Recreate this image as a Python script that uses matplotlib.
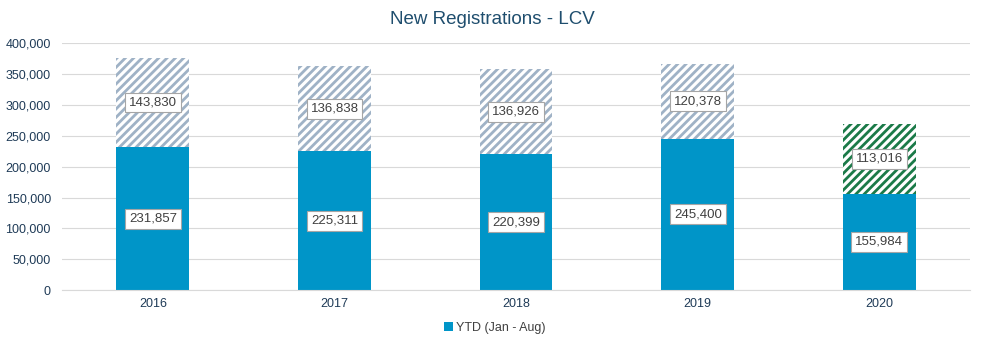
import matplotlib
matplotlib.use("Agg")
import matplotlib.pyplot as plt
import numpy as np
from matplotlib.ticker import FuncFormatter

years = ["2016", "2017", "2018", "2019", "2020"]
ytd = [231857, 225311, 220399, 245400, 155984]
rest = [143830, 136838, 136926, 120378, 113016]
hatch_colors = ["#9fb2c6", "#9fb2c6", "#9fb2c6", "#9fb2c6", "#1b7a48"]

BLUE = "#0095c8"
plt.rcParams["font.family"] = ["Liberation Sans", "DejaVu Sans"]
plt.rcParams["hatch.linewidth"] = 2.0

fig = plt.figure(figsize=(9.84, 3.53), dpi=100)
ax = fig.add_axes([0.063, 0.178, 0.923, 0.700])

x = np.arange(len(years))
w = 0.40
bars = ax.bar(x, ytd, width=w, color=BLUE, label="YTD (Jan - Aug)", zorder=2)
for i in range(len(years)):
    plt.rcParams["hatch.color"] = hatch_colors[i]
    ax.bar(x[i], rest[i], bottom=ytd[i], width=w, facecolor="white",
           edgecolor=hatch_colors[i], linewidth=0, hatch="////", zorder=2)

box = dict(boxstyle="square,pad=0.3", facecolor="white", edgecolor="#a6a6a6", linewidth=0.8)
for i in range(len(years)):
    ax.text(x[i], ytd[i] / 2, f"{ytd[i]:,}", ha="center", va="center",
            fontsize=9.5, color="#404040", bbox=box, zorder=4)
    ax.text(x[i], ytd[i] + rest[i] / 2, f"{rest[i]:,}", ha="center", va="center",
            fontsize=9.5, color="#404040", bbox=box, zorder=4)

ax.set_xlim(-0.5, len(years) - 0.5)
ax.set_ylim(0, 400000)
ax.set_yticks(np.arange(0, 400001, 50000))
ax.yaxis.set_major_formatter(FuncFormatter(lambda v, p: f"{int(v):,}"))
ax.set_xticks(x)
ax.set_xticklabels(years)
ax.grid(axis="y", color="#d9d9d9", linewidth=0.8, zorder=0)
ax.set_axisbelow(True)
for s in ["top", "right", "left"]:
    ax.spines[s].set_visible(False)
ax.spines["bottom"].set_color("#d9d9d9")
ax.tick_params(axis="both", length=0, labelsize=9, colors="#1f3b57", pad=8)
ax.tick_params(axis="x", pad=6)

fig.text(0.5, 0.945, "New Registrations - LCV", ha="center", va="center",
         fontsize=13.5, color="#1f4e6e")

fig.legend(handles=[bars], labels=["YTD (Jan - Aug)"], loc="center",
           bbox_to_anchor=(0.503, 0.072), frameon=False, fontsize=9,
           handlelength=0.7, handleheight=0.7, handletextpad=0.3,
           labelcolor="#404040")

fig.savefig("out.png", dpi=100)
